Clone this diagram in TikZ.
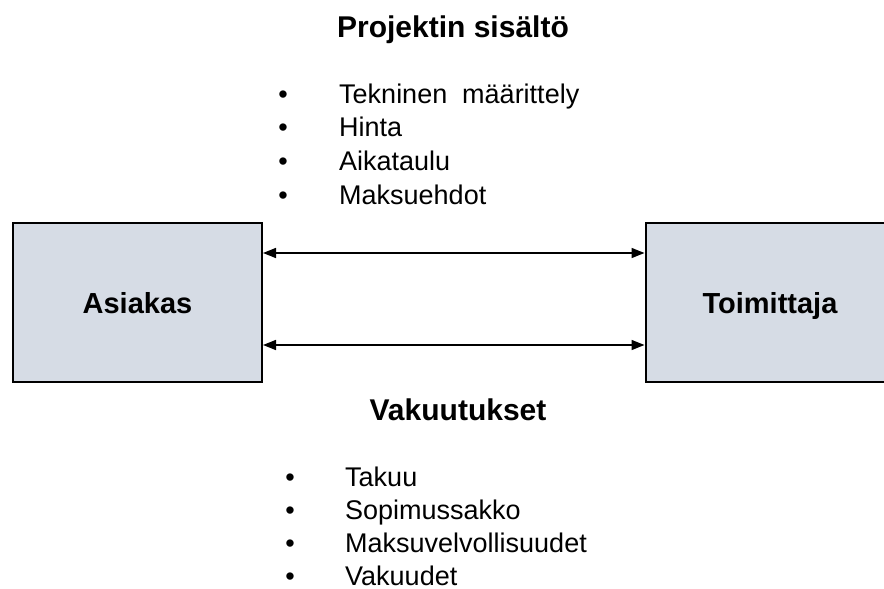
\documentclass[tikz,border=0pt]{standalone}
\usepackage{fontspec}
\setmainfont{Liberation Sans}
\usetikzlibrary{arrows.meta}
\definecolor{boxfill}{HTML}{D6DCE5}
\begin{document}
\begin{tikzpicture}[x=1pt,y=-1pt,
  party/.style={draw=black, line width=2pt, fill=boxfill, minimum width=249pt,
    minimum height=159pt, inner sep=0pt, text height=21pt, text depth=0pt,
    font=\fontsize{29}{34}\selectfont\bfseries},
  heading/.style={font=\fontsize{30}{35}\selectfont\bfseries, inner sep=0pt, anchor=base},
  entry/.style={font=\fontsize{27}{32}\selectfont, inner sep=0pt, text depth=0pt, anchor=base west},
  dot/.style={font=\fontsize{27}{32}\selectfont, inner sep=0pt, text depth=0pt, anchor=base},
  flow/.style={line width=1.5pt, {Triangle[length=13pt,width=10pt]}-{Triangle[length=13pt,width=10pt]}}]
\useasboundingbox (0,0) rectangle (884,589);
\clip (0,0) rectangle (884,589);

% the two parties
\node[party] (asiakas) at (137.5,302.5) {Asiakas};
\node[party] (toimittaja) at (770,302.5) {Toimittaja};

% exchanges between them
\draw[flow] ([yshift=49.5pt]asiakas.east) -- ([yshift=49.5pt]toimittaja.west);
\draw[flow] ([yshift=-42.5pt]asiakas.east) -- ([yshift=-42.5pt]toimittaja.west);

% project content
\node[heading] (sisalto) at (453,37) {Projektin sisältö};
\foreach \txt [count=\i] in {Tekninen\hspace{15pt}määrittely, Hinta, Aikataulu, Maksuehdot} {
  \node[dot] (pb\i) at (283,{103+33.7*(\i-1)}) {•};
  \node[entry] (pe\i) at (339,{103+33.7*(\i-1)}) {\txt};
}

% guarantees
\node[heading] (vakuutukset) at (458,420) {Vakuutukset};
\foreach \txt [count=\i] in {Takuu, Sopimussakko, Maksuvelvollisuudet, Vakuudet} {
  \node[dot] (vb\i) at (290,{486+33*(\i-1)}) {•};
  \node[entry] (ve\i) at (345,{486+33*(\i-1)}) {\txt};
}
\end{tikzpicture}
\end{document}
